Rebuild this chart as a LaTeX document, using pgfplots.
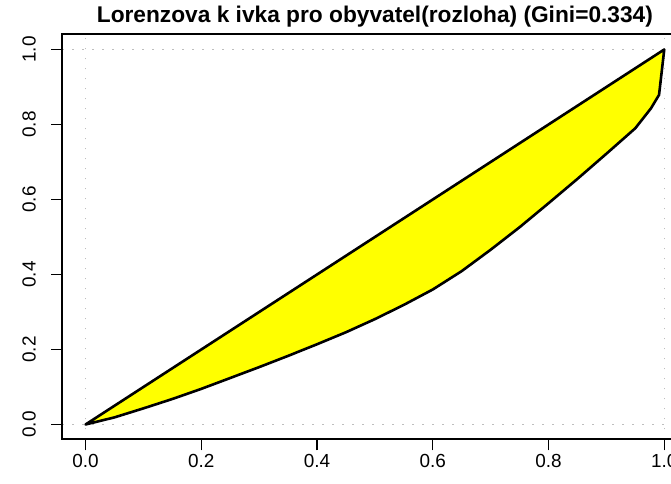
\documentclass[border=0pt]{standalone}
\usepackage{fontspec}
\setmainfont{Liberation Sans}
\usepackage{pgfplots}
\pgfplotsset{compat=1.18}
\definecolor{rgrid}{RGB}{190,190,190}
\definecolor{ryellow}{RGB}{255,255,0}
\begin{document}
\begin{tikzpicture}
\begin{axis}[
  name=ax,
  at={(62.4bp,44.5bp)}, anchor=south west,
  scale only axis, width=625bp, height=405bp,
  xmin=-0.04, xmax=1.04, ymin=-0.04, ymax=1.04,
  axis line style={draw=black, line width=1.8bp},
  xtick={0,0.2,0.4,0.6,0.8,1.0},
  ytick={0,0.2,0.4,0.6,0.8,1.0},
  xticklabels={0.0,0.2,0.4,0.6,0.8,1.0},
  yticklabels={0.0,0.2,0.4,0.6,0.8,1.0},
  tick pos=left, tick align=outside,
  major tick length=11bp,
  tick style={black, line width=1.1bp},
  tick label style={font=\fontsize{19}{22}\selectfont},
  /pgf/number format/assume math mode=true,
  yticklabel style={rotate=90, anchor=south},
  yticklabel shift=12bp,
  title={\fontsize{22.8}{26}\selectfont\bfseries Lorenzova k ivka pro obyvatel(rozloha) (Gini=0.334)},
  title style={at={(0.5,1)}, anchor=south, yshift=-2bp},
]
\addplot[rgrid, line width=1.1bp, dash pattern=on 1.5bp off 8.5bp] coordinates {(-0.04,0) (1.04,0)};
\addplot[rgrid, line width=1.1bp, dash pattern=on 1.5bp off 8.5bp] coordinates {(-0.04,1) (1.04,1)};
\addplot[rgrid, line width=1.1bp, dash pattern=on 1.5bp off 8.5bp] coordinates {(0,-0.04) (0,1.04)};
\addplot[rgrid, line width=1.1bp, dash pattern=on 1.5bp off 8.5bp] coordinates {(1,-0.04) (1,1.04)};
\addplot[fill=ryellow, draw=black, line width=2.6bp, line join=round] coordinates {
(0,0) (1,1) (0.991,0.879) (0.977,0.843) (0.95,0.790) (0.90,0.722) (0.85,0.655) (0.80,0.590) (0.75,0.526) (0.70,0.466) (0.65,0.409) (0.60,0.360) (0.55,0.319) (0.50,0.281) (0.45,0.246) (0.40,0.214) (0.35,0.183) (0.30,0.153) (0.25,0.124) (0.20,0.095) (0.15,0.068) (0.10,0.043) (0.05,0.019) (0,0)
} -- cycle;
\end{axis}
\draw[black, line width=2bp] (ax.north east) -- (ax.north west) -- (ax.south west) -- (ax.south east);
\pgfresetboundingbox
\path[use as bounding box] (0,0) rectangle (671bp,484bp);
\end{tikzpicture}
\end{document}
